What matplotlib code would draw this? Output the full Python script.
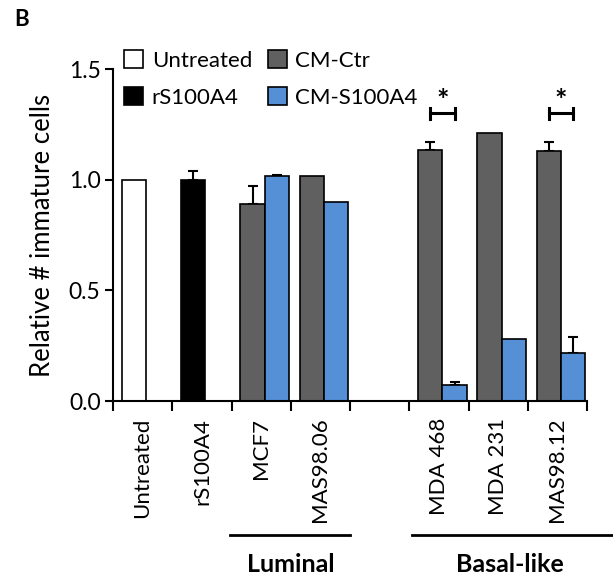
import matplotlib
matplotlib.use("Agg")
import matplotlib.pyplot as plt
from matplotlib.patches import Patch
import numpy as np

plt.rcParams['font.family'] = ['Lato', 'DejaVu Sans']

# ---- data ----
single_labels = ["Untreated", "rS100A4"]
single_values = [1.00, 1.00]
single_errors = [0.0, 0.04]
single_colors = ["#ffffff", "#000000"]

cell_lines = ["MCF7", "MAS98.06", "MDA 468", "MDA 231", "MAS98.12"]
cm_ctr = [0.89, 1.018, 1.135, 1.213, 1.128]
cm_ctr_err = [0.08, 0.0, 0.033, 0.0, 0.04]
cm_s100a4 = [1.015, 0.90, 0.072, 0.282, 0.218]
cm_s100a4_err = [0.005, 0.0, 0.015, 0.0, 0.07]
cell_slots = [2, 3, 5, 6, 7]

sig_slots = [5, 7]
sig_height = 1.30

groups = ["Luminal", "Basal-like"]
group_spans = [(1.97, 4.0), (5.05, 8.6)]
group_centers = [3.0, 6.7]

legend_labels = ["Untreated", "rS100A4", "CM-Ctr", "CM-S100A4"]

GRAY = "#606060"
BLUE = "#558fd6"

fig = plt.figure(figsize=(6.13, 5.79), dpi=100)
ax = fig.add_axes([113/613, 178/579, 474/613, 332/579])

w = 0.41
off_g = 0.15
off_b = off_g + w
ekw = dict(capsize=3.8, elinewidth=1.5, capthick=1.5, ecolor="black")

# single bars
for i, (v, e, c) in enumerate(zip(single_values, single_errors, single_colors)):
    ax.bar(i + off_g, v, width=w, align="edge", color=c, edgecolor="black", linewidth=1.2, zorder=2)
    if e > 0:
        ax.errorbar(i + off_g + w/2, v, yerr=[[0], [e]], fmt="none", zorder=1, **ekw)

for s, g, ge, b, be in zip(cell_slots, cm_ctr, cm_ctr_err, cm_s100a4, cm_s100a4_err):
    ax.bar(s + off_g, g, width=w, align="edge", color=GRAY, edgecolor="black", linewidth=1.2, zorder=2)
    ax.bar(s + off_b, b, width=w, align="edge", color=BLUE, edgecolor="black", linewidth=1.2, zorder=2)
    if ge > 0:
        ax.errorbar(s + off_g + w/2, g, yerr=[[0], [ge]], fmt="none", zorder=1, **ekw)
    if be > 0:
        ax.errorbar(s + off_b + w/2, b, yerr=[[0], [be]], fmt="none", zorder=1, **ekw)

# significance brackets
for s in sig_slots:
    x1 = s + off_g + w/2
    x2 = s + off_b + w/2
    ax.plot([x1, x2], [sig_height, sig_height], color="black", lw=2.2, clip_on=False)
    ax.plot([x1, x1], [sig_height - 0.025, sig_height + 0.025], color="black", lw=2.2, clip_on=False)
    ax.plot([x2, x2], [sig_height - 0.025, sig_height + 0.025], color="black", lw=2.2, clip_on=False)
    ax.text((x1 + x2)/2, sig_height - 0.005, "*", ha="center", va="bottom", fontsize=21, fontweight="bold")

ax.set_xlim(0, 8)
ax.set_ylim(0, 1.5)
ax.set_yticks([0, 0.5, 1.0, 1.5])
ax.set_yticklabels(["0.0", "0.5", "1.0", "1.5"], fontsize=16.5)
ax.set_xticks(np.arange(0, 9))
ax.set_xticklabels([])
centers = [0.5, 1.5] + [s + 0.5 for s in cell_slots]
ax.set_xticks(centers, minor=True)
ax.set_xticklabels(single_labels + cell_lines, minor=True, rotation=90, fontsize=16, va="top")
ax.tick_params(axis="x", which="minor", length=0, pad=12)
ax.tick_params(axis="x", which="major", length=7, width=1.5, direction="out")
ax.tick_params(axis="y", length=6, width=1.5, direction="out", pad=3)
for sp in ["top", "right"]:
    ax.spines[sp].set_visible(False)
for sp in ["left", "bottom"]:
    ax.spines[sp].set_linewidth(1.5)
ax.spines["bottom"].set_bounds(0, 8)

ax.set_ylabel("Relative # immature cells", fontsize=18.5, labelpad=10)

# group lines and labels
trans = ax.get_xaxis_transform()
for name, (a, b), c in zip(groups, group_spans, group_centers):
    ax.plot([a, b], [-0.4036, -0.4036], color="black", lw=2.0, transform=trans, clip_on=False)
    ax.text(c, -0.492, name, transform=trans, ha="center", va="center", fontsize=18, fontweight="bold")

# legend
handles = [Patch(facecolor=c, edgecolor="black", linewidth=1.2) for c in ["#ffffff", "#000000", GRAY, BLUE]]
leg = fig.legend(handles, legend_labels, loc="upper left", bbox_to_anchor=(124/613, 1 - 50/579),
                 ncol=2, frameon=False, fontsize=16, handlelength=0.85, handleheight=0.85,
                 handletextpad=0.4, columnspacing=0.7, labelspacing=0.75, borderpad=0, borderaxespad=0)

fig.text(14/613, 1 - 20/579, "B", fontsize=16, fontweight="bold", ha="left", va="center")

fig.savefig("out.png", dpi=100)
